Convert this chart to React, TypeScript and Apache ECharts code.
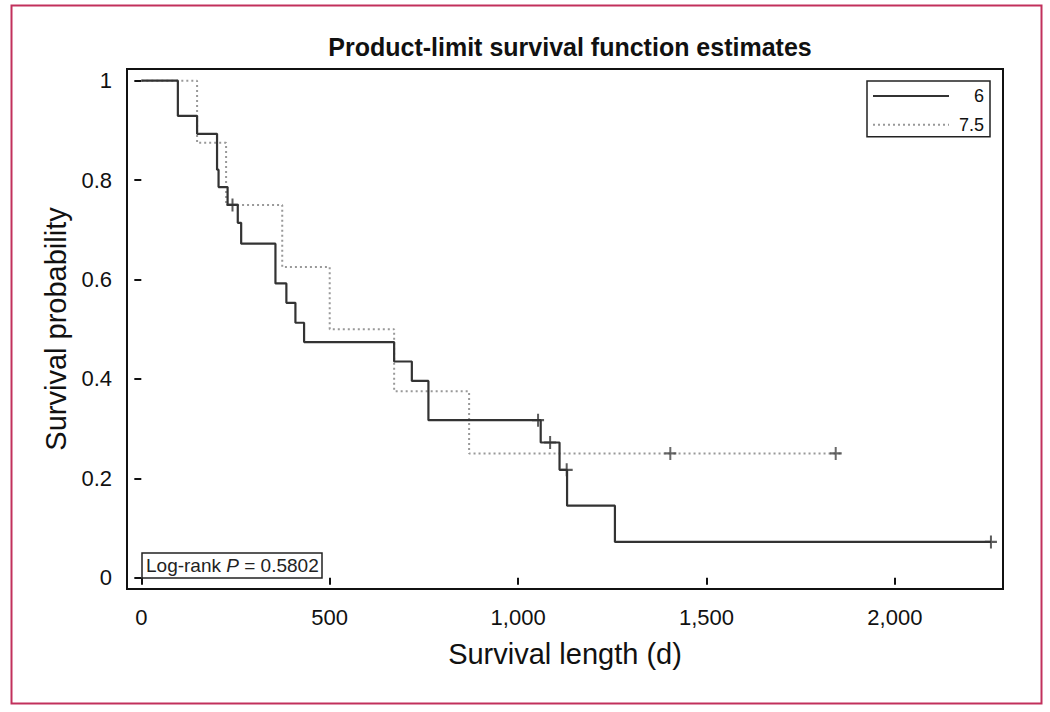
import React, { useEffect, useRef } from "react";
import * as echarts from "echarts";

// ---- Data ----
const xTicks = [0, 500, 1000, 1500, 2000];
const yTicks = [0, 0.2, 0.4, 0.6, 0.8, 1];

const seriesNames = ["6", "7.5"];

const group6Times = [0, 97, 148, 201, 205, 229, 256, 265, 356, 385, 409, 432, 671, 718, 762, 1060, 1110, 1130, 1257, 2255];
const group6Surv = [1, 0.929, 0.893, 0.821, 0.786, 0.75, 0.714, 0.672, 0.592, 0.553, 0.513, 0.474, 0.435, 0.396, 0.317, 0.272, 0.217, 0.145, 0.072, 0.072];
const group6CensorTimes = [242, 1053, 1085, 1129, 2255];
const group6CensorSurv = [0.75, 0.317, 0.272, 0.217, 0.072];

const group75Times = [0, 148, 225, 374, 500, 671, 870, 1861];
const group75Surv = [1, 0.875, 0.75, 0.625, 0.5, 0.375, 0.25, 0.25];
const group75CensorTimes = [1404, 1843];
const group75CensorSurv = [0.25, 0.25];

const titleText = "Product-limit survival function estimates";
const xName = "Survival length (d)";
const yName = "Survival probability";
const pValueText = "0.5802";

const FONT = "'Liberation Sans', Arial, Helvetica, sans-serif";
const PLUS = "path://M5,0H7V5H12V7H7V12H5V7H0V5H5Z";

const zip = (a: number[], b: number[]) => a.map((v, i) => [v, b[i]]);

export default function App() {
  const ref = useRef<HTMLDivElement>(null);
  useEffect(() => {
    const chart = echarts.init(ref.current!, null, { renderer: "svg" });
    const option: any = {
      animation: false,
      backgroundColor: "#ffffff",
      title: [
        {
          text: titleText,
          left: 565,
          top: 29,
          textAlign: "center",
          textStyle: { fontFamily: FONT, fontWeight: "bold", fontSize: 25, color: "#111" },
        },
        {
          text: "{n|Log-rank }{p|P}{n| = " + pValueText + "}",
          left: 142,
          top: 552,
          padding: [3, 4, 3, 4],
          borderColor: "#222",
          borderWidth: 1.5,
          textStyle: {
            fontWeight: "normal",
            rich: {
              n: { fontFamily: FONT, fontSize: 19, lineHeight: 21, color: "#222", fontWeight: "normal" },
              p: { fontFamily: FONT, fontSize: 19, lineHeight: 21, color: "#222", fontStyle: "italic", fontWeight: "normal" },
            },
          },
        },
      ],
      legend: {
        orient: "vertical",
        left: 867,
        top: 81,
        itemWidth: 76,
        itemHeight: 16,
        itemGap: 10.7,
        padding: [6, 6, 3, 5],
        borderColor: "#222",
        borderWidth: 1.5,
        selectedMode: false,
        data: seriesNames,
        itemStyle: { color: "rgba(0,0,0,0)", borderWidth: 0, opacity: 0 },
        formatter: (name: string) => "{a|" + name + "}",
        textStyle: {
          rich: { a: { width: 30, align: "right", fontSize: 18, lineHeight: 16, fontFamily: FONT, color: "#111" } },
        },
      },
      grid: {
        left: 127,
        top: 69,
        right: 47,
        bottom: 123,
        show: true,
        borderColor: "#111",
        borderWidth: 2,
        backgroundColor: "rgba(0,0,0,0)",
      },
      xAxis: {
        type: "value",
        min: -38,
        max: 2287,
        splitLine: { show: false },
        axisLine: { show: false },
        axisTick: { show: true, customValues: xTicks, length: 7, inside: false, lineStyle: { color: "#111", width: 2 } },
        axisLabel: {
          customValues: xTicks,
          formatter: (v: number) => v.toLocaleString("en-US"),
          fontSize: 22,
          fontFamily: FONT,
          color: "#111",
          margin: 17,
        },
        name: xName,
        nameLocation: "middle",
        nameGap: 50,
        nameTextStyle: { fontSize: 29, fontFamily: FONT, color: "#111" },
      },
      yAxis: {
        type: "value",
        min: -0.0227,
        max: 1.0235,
        splitLine: { show: false },
        axisLine: { show: false },
        axisTick: { show: true, customValues: yTicks, length: 7, inside: false, lineStyle: { color: "#111", width: 2 } },
        axisLabel: {
          customValues: yTicks,
          formatter: (v: number) => String(v),
          fontSize: 22,
          fontFamily: FONT,
          color: "#111",
          margin: 15,
        },
        name: yName,
        nameLocation: "middle",
        nameGap: 55,
        nameTextStyle: { fontSize: 29, fontFamily: FONT, color: "#111" },
      },
      graphic: [
        {
          type: "rect",
          left: 9,
          top: 3,
          shape: { width: 1030, height: 698 },
          style: { fill: "none", stroke: "#c2305c", lineWidth: 2 },
          z: 100,
        },
      ],
      series: [
        {
          name: seriesNames[1],
          type: "line",
          step: "end",
          symbol: "none",
          data: zip(group75Times, group75Surv),
          color: "#999",
          lineStyle: { color: "#999", width: 2, type: [2, 3] },
          z: 2,
        },
        {
          name: seriesNames[0],
          type: "line",
          step: "end",
          symbol: "none",
          data: zip(group6Times, group6Surv),
          color: "#333",
          lineStyle: { color: "#333", width: 2.2 },
          z: 3,
        },
        {
          name: "c75",
          type: "scatter",
          symbol: PLUS,
          symbolSize: [12, 13],
          data: zip(group75CensorTimes, group75CensorSurv),
          itemStyle: { color: "#444" },
          z: 4,
        },
        {
          name: "c6",
          type: "scatter",
          symbol: PLUS,
          symbolSize: [12, 13],
          data: zip(group6CensorTimes, group6CensorSurv),
          itemStyle: { color: "#333" },
          z: 4,
        },
      ],
    };
    chart.setOption(option);
    return () => chart.dispose();
  }, []);
  return (
    <div
      ref={ref}
      style={{ position: "fixed", left: 0, top: 0, width: 1050, height: 712, background: "#fff" }}
    />
  );
}
